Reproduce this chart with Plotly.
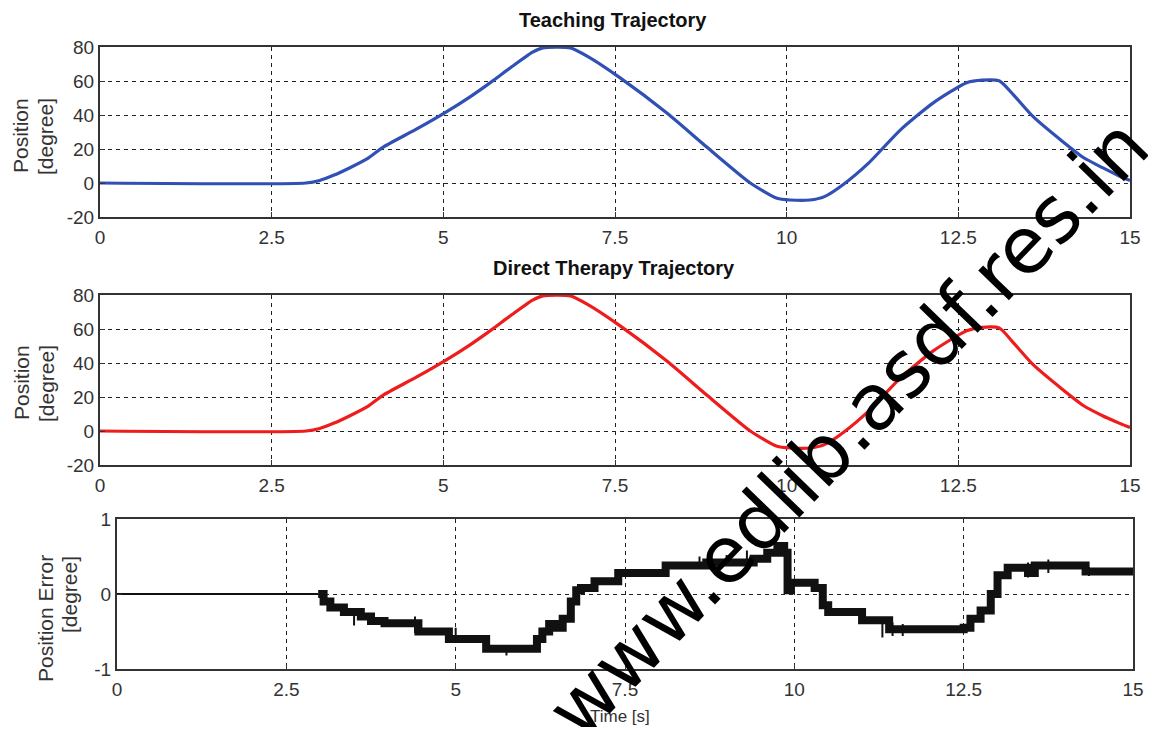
import plotly.graph_objects as go

# target canvas (reference pixels) and page body margin of the browser
CW, CH = 1156, 735
OFF = 8
W, H = CW - 2 * OFF, CH - 2 * OFF

# ---------------- data ----------------
t_pos = [0, 3.0, 3.2, 3.4, 3.64, 3.9, 4.12, 4.6, 5.05, 5.4, 5.7, 6.0, 6.3, 6.45, 6.85,
         7.1, 7.57, 8.26, 8.84, 9.47, 9.86, 10.05, 10.34, 10.55, 10.82, 11.2, 11.65, 12.13,
         12.62, 12.85, 13.1, 13.3, 13.59, 14.0, 14.32, 14.6, 14.85, 15.0]
teach_pos = [0, 0, 1.5, 4.5, 9, 14.5, 21, 31.5, 42, 51, 59.5, 68.5, 77, 79.5, 79.5,
             74.5, 62, 41, 21, 0, -9, -10, -10, -8, -1, 12, 31, 47,
             59, 60.5, 60, 52, 39, 25, 15, 9, 4, 1.5]
therapy_pos = [0, 0, 1.5, 4.5, 9, 14.5, 21, 31.5, 42, 51, 59.5, 68.5, 77, 79.5, 79.5,
               74.5, 62, 41, 21, 0, -9, -10, -10, -8, -1, 12, 31, 47,
               59, 61, 60.5, 52, 39, 25, 15, 9, 4.5, 2]

t_err = [0, 2.97, 3.05, 3.15, 3.35, 3.6, 3.75, 3.95, 4.45, 4.9, 5.45, 6.2, 6.28, 6.38,
         6.48, 6.58, 6.7, 6.78, 6.85, 7.05, 7.4, 8.1, 8.7, 9.4, 9.6, 9.75, 9.85, 9.9,
         9.95, 10.3, 10.42, 10.5, 11.0, 11.4, 12.5, 12.6, 12.75, 12.9, 13.0, 13.15,
         13.45, 13.55, 14.3, 15.0]
err = [0, 0, -0.1, -0.18, -0.24, -0.3, -0.36, -0.39, -0.5, -0.6, -0.73, -0.6, -0.5, -0.4,
       -0.45, -0.33, -0.1, 0.05, 0.08, 0.17, 0.28, 0.38, 0.42, 0.47, 0.55, 0.64, 0.55, 0.05,
       0.15, 0.08, -0.15, -0.24, -0.35, -0.47, -0.45, -0.33, -0.22, 0.0, 0.25, 0.35,
       0.28, 0.38, 0.3, 0.28]

spike_t = [3.5, 4.4, 5.0, 5.75, 6.3, 8.6, 9.0, 9.3, 11.3, 11.45, 11.6, 13.45, 13.75, 14.35]
spike_lo = [-0.42, -0.52, -0.62, -0.82, -0.64, 0.38, 0.4, 0.42, -0.58, -0.56, -0.56, 0.22, 0.28, 0.24]
spike_hi = [-0.22, -0.3, -0.45, -0.68, -0.45, 0.5, 0.52, 0.58, -0.38, -0.38, -0.4, 0.42, 0.46, 0.36]

x_ticks = [0, 2.5, 5, 7.5, 10, 12.5, 15]
x_ticklabels = ["0", "2.5", "5", "7.5", "10", "12.5", "15"]
pos_ticks = [-20, 0, 20, 40, 60, 80]
pos_ticklabels = ["-20", "0", "20", "40", "60", "80"]
err_ticks = [-1, 0, 1]
err_ticklabels = ["-1", "0", "1"]

# --------------- figure ----------------
fig = go.Figure()

fig.add_trace(go.Scatter(x=t_pos, y=teach_pos, mode="lines",
                         line=dict(color="#3050b4", width=3.2, shape="spline", smoothing=0.6),
                         xaxis="x", yaxis="y", showlegend=False))
fig.add_trace(go.Scatter(x=t_pos, y=therapy_pos, mode="lines",
                         line=dict(color="#ee1c1c", width=3.2, shape="spline", smoothing=0.6),
                         xaxis="x2", yaxis="y2", showlegend=False))

fig.add_trace(go.Scatter(x=t_err[:2], y=err[:2], mode="lines", line=dict(color="#111111", width=2.2),
                         xaxis="x3", yaxis="y3", showlegend=False))
fig.add_trace(go.Scatter(x=t_err[1:], y=err[1:], mode="lines", line=dict(color="#111111", width=8, shape="hv"),
                         xaxis="x3", yaxis="y3", showlegend=False))
sx, sy = [], []
for t, lo, hi in zip(spike_t, spike_lo, spike_hi):
    sx += [t, t, None]
    sy += [lo, hi, None]
fig.add_trace(go.Scatter(x=sx, y=sy, mode="lines", line=dict(color="#111111", width=2),
                         xaxis="x3", yaxis="y3", showlegend=False))


def px_x(p):
    return (p - OFF) / W


def px_y(p):
    return 1 - (p - OFF) / H


tickfont = dict(family="Liberation Sans, Arial, sans-serif", size=19, color="#333333")
grid = dict(showgrid=True, gridcolor="#222222", gridwidth=1, griddash="4px,4px")
frame = dict(showline=True, linecolor="#333333", linewidth=2, mirror=True, zeroline=False,
             ticks="inside", ticklen=5, tickcolor="#333333", tickfont=tickfont, automargin=False)

panels = [
    ("x", "y", (100, 1130), (47, 217), pos_ticks, pos_ticklabels, [-20, 80]),
    ("x2", "y2", (100, 1130), (295, 465), pos_ticks, pos_ticklabels, [-20, 80]),
    ("x3", "y3", (117, 1133), (519, 669), err_ticks, err_ticklabels, [-1, 1]),
]
layout = dict(width=W, height=H, margin=dict(l=0, r=0, t=0, b=0, pad=0, autoexpand=False),
              paper_bgcolor="white", plot_bgcolor="white", showlegend=False)
for xa, ya, (x0, x1), (y0, y1), yt, ytl, yr in panels:
    xkey = "xaxis" if xa == "x" else "xaxis" + xa[1:]
    ykey = "yaxis" if ya == "y" else "yaxis" + ya[1:]
    layout[xkey] = dict(domain=[px_x(x0), px_x(x1)], range=[0, 15], anchor=ya,
                        tickvals=x_ticks, ticktext=x_ticklabels, ticklabelstandoff=2, **grid, **frame)
    layout[ykey] = dict(domain=[px_y(y1), px_y(y0)], range=yr, anchor=xa,
                        tickvals=yt, ticktext=ytl, ticklabelstandoff=0, **grid, **frame)
fig.update_layout(**layout)

ann = []


def add_text(txt, cx, cy, font, angle=0):
    ann.append(dict(text=txt, x=px_x(cx), y=px_y(cy), xref="paper", yref="paper",
                    xanchor="center", yanchor="middle", textangle=angle,
                    showarrow=False, font=font))


title_font = dict(family="Liberation Sans, Arial, sans-serif", size=20, color="#111111")
add_text("<b>Teaching Trajectory</b>", 613, 20, title_font)
add_text("<b>Direct Therapy Trajectory</b>", 614, 268, title_font)
lab_font = dict(family="Liberation Sans, Arial, sans-serif", size=21, color="#333333")
for cx, cy, txt in [(21, 136, "Position"), (46, 137, "[degree]"),
                    (21, 383, "Position"), (46, 384, "[degree]"),
                    (45, 618, "Position Error"), (69, 595, "[degree]")]:
    add_text(txt, cx, cy, lab_font, -90)
add_text("Time [s]", 620, 716, dict(family="Liberation Sans, Arial, sans-serif", size=17, color="#333333"))
# watermark
add_text("www.edlib.asdf.res.in", 848, 428,
         dict(family="DejaVu Sans, sans-serif", size=78, color="black"), -46)
fig.update_layout(annotations=ann)

fig.write_html("out.html")
